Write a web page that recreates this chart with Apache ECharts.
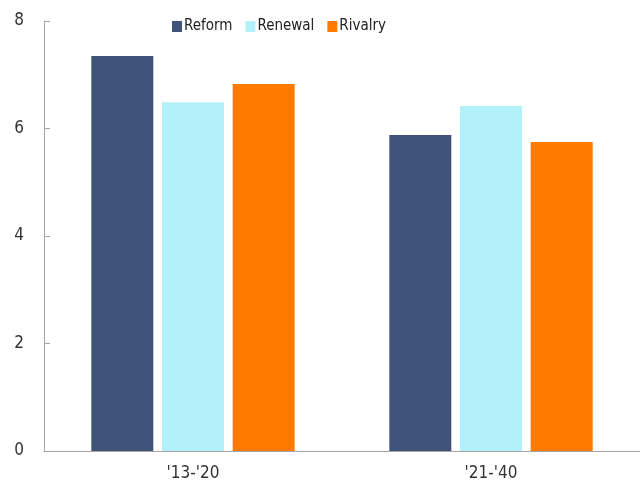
<!DOCTYPE html>
<html>
<head>
<meta charset="utf-8">
<script src="https://cdn.jsdelivr.net/npm/echarts@6/dist/echarts.min.js"></script>
<style>
  html, body { margin: 0; padding: 0; background: #fff; }
  #chart { width: 640px; height: 486px; }
</style>
</head>
<body>
<div id="chart"></div>
<script>
  // periods on the x axis
  var categories = ["'13-'20", "'21-'40"]
  var reform = [7.35, 5.88]
  var renewal = [6.49, 6.42]
  var rivalry = [6.83, 5.75]
  var yTicks = [0, 2, 4, 6, 8]

  var font = '"DejaVu Sans Condensed", sans-serif'

  var chart = echarts.init(document.getElementById('chart'))

  var option = {
    animation: false,
    textStyle: { fontFamily: font },
    color: ['#3F5278', '#B3F1FA', '#FF7B00'],
    legend: {
      left: 167,
      top: 14,
      itemWidth: 10,
      itemHeight: 11,
      itemGap: 13,
      icon: 'rect',
      textStyle: { fontFamily: font, fontSize: 15, color: '#222', padding: [0, 0, 0, -3] },
      data: ['Reform', 'Renewal', 'Rivalry']
    },
    grid: { left: 44, right: 0, top: 21, bottom: 35 },
    xAxis: {
      type: 'category',
      data: categories,
      axisLine: { lineStyle: { color: '#A6A6A6', width: 1 } },
      axisTick: { show: false },
      axisLabel: { fontFamily: font, fontSize: 17, color: '#333', margin: 14 }
    },
    yAxis: {
      type: 'value',
      min: yTicks[0],
      max: yTicks[yTicks.length - 1],
      interval: 2,
      axisLine: { show: true, lineStyle: { color: '#A6A6A6', width: 1 } },
      axisTick: { show: true, inside: true, length: 6, lineStyle: { color: '#A6A6A6' } },
      splitLine: { show: false },
      axisLabel: { fontFamily: font, fontSize: 17, color: '#333', margin: 20 }
    },
    series: [
      { name: 'Reform', type: 'bar', data: reform, barWidth: 62, barGap: '14%' },
      { name: 'Renewal', type: 'bar', data: renewal, barWidth: 62, barGap: '14%' },
      { name: 'Rivalry', type: 'bar', data: rivalry, barWidth: 62, barGap: '14%' }
    ]
  }

  chart.setOption(option)
</script>
</body>
</html>
